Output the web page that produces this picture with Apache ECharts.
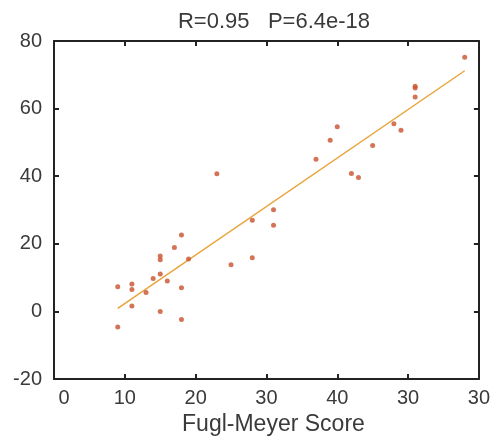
<!DOCTYPE html>
<html>
<head>
<meta charset="utf-8">
<script src="https://cdn.jsdelivr.net/npm/echarts@6/dist/echarts.min.js"></script>
<style>
  html, body { margin: 0; padding: 0; background: #fff; }
  #main { width: 493px; height: 441px; }
</style>
</head>
<body>
<div id="main"></div>
<script>
// Fugl-Meyer score vs outcome
var scoreX = [9, 9, 11, 11, 11, 13, 14, 15, 15, 15, 15, 16, 17, 18, 18, 18, 19,
              23, 25, 28, 28, 31, 31,
              37, 39, 40, 42, 43, 45, 48, 49, 51, 51, 51, 58];
var scoreY = [7.3, -4.6, 8.1, 6.5, 1.6, 5.6, 9.7, 16.4, 15.3, 11.1, 0, 9.0, 18.9, 22.6, 7.0, -2.4, 15.5,
              40.7, 13.8, 27.0, 15.9, 30.1, 25.5,
              45.0, 50.6, 54.6, 40.8, 39.6, 49.1, 55.5, 53.6, 66.6, 66.1, 63.4, 75.2];
// fitted line ends
var fitX = [9, 58];
var fitY = [0.9, 71.2];
// x tick labels as printed (sic)
var xTickLabels = ['0', '10', '20', '30', '40', '30', '30'];
var yTickLabels = ['-20', '0', '20', '40', '60', '80'];

var points = scoreX.map(function (x, i) { return [x, scoreY[i]]; });
var fitLine = fitX.map(function (x, i) { return [x, fitY[i]]; });

var axisColor = '#222';
var textColor = '#3a3a3a';
var font = 'Liberation Sans, Arial, sans-serif';

function frameAxis(extra) {
    var a = {
        axisLine: {show: true, onZero: false, lineStyle: {color: axisColor, width: 2}},
        axisTick: {show: true, inside: true, length: 5, lineStyle: {color: axisColor, width: 2}},
        splitLine: {show: false}
    };
    for (var k in extra) a[k] = extra[k];
    return a;
}

myChart = echarts.init(document.getElementById('main'), null, {renderer: 'canvas'});

var option = {
    animation: false,
    backgroundColor: '#fff',
    title: {
        text: 'R=0.95   P=6.4e-18',
        left: 269,
        textAlign: 'center',
        top: 6,
        textStyle: {fontFamily: font, fontSize: 22, fontWeight: 'normal', color: textColor}
    },
    grid: {left: 54, right: 8, top: 41, bottom: 60},
    xAxis: [
        frameAxis({
            type: 'value',
            min: 0, max: 60, interval: 10,
            name: 'Fugl-Meyer Score',
            nameLocation: 'middle',
            nameGap: 34,
            nameTextStyle: {fontFamily: font, fontSize: 23, color: textColor, padding: [0, 0, 0, 14]},
            axisLabel: {
                margin: 9,
                fontFamily: font, fontSize: 20, color: textColor,
                formatter: function (v) {
                    var s = xTickLabels[Math.round(v / 10)];
                    return v === 0 ? '{p|' + s + '}' : s;
                },
                rich: {p: {fontFamily: font, fontSize: 20, color: textColor, padding: [0, 0, 0, 20]}}
            }
        }),
        frameAxis({
            type: 'value', position: 'top',
            min: 0, max: 60, interval: 10,
            axisLabel: {show: false}
        })
    ],
    yAxis: [
        frameAxis({
            type: 'value',
            min: -20, max: 80, interval: 20,
            axisLabel: {
                margin: 12,
                fontFamily: font, fontSize: 20, color: textColor,
                formatter: function (v) { return yTickLabels[Math.round((v + 20) / 20)]; }
            }
        }),
        frameAxis({
            type: 'value', position: 'right',
            min: -20, max: 80, interval: 20,
            axisLabel: {show: false}
        })
    ],
    series: [
        {
            type: 'line',
            data: fitLine,
            symbol: 'none',
            lineStyle: {color: '#e9a43a', width: 1.5},
            z: 2
        },
        {
            type: 'scatter',
            data: points,
            symbolSize: 5,
            itemStyle: {color: '#c9512c'},
            z: 3
        }
    ]
};

myChart.setOption(option);
</script>
</body>
</html>
